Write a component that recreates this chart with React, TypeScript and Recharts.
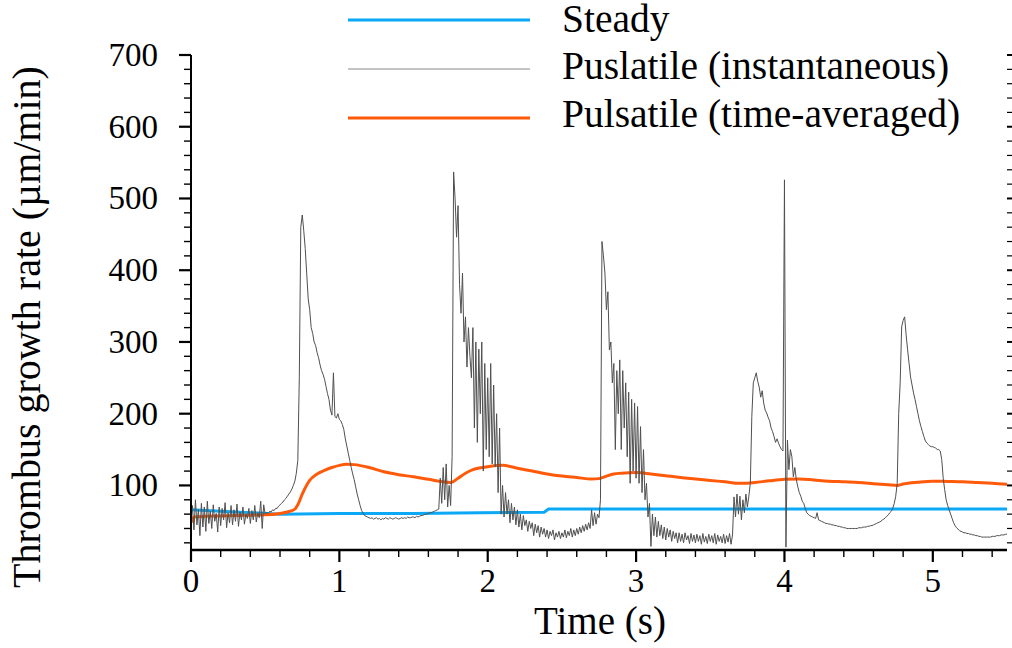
import React from 'react';
import { LineChart, Line, XAxis, YAxis, Legend } from 'recharts';

// ---------- data ----------
// Pulsatile (instantaneous): sampled every 0.01 s from t = 0 to 5.5 s
const INSTANT_STEP = 0.01;
const instantRate = [
  48, 72, 38, 80, 45, 66, 30, 75, 42, 70, // 0.0
  36, 78, 47, 64, 40, 73, 50, 61, 35, 70, // 0.1
  44, 68, 52, 76, 41, 62, 48, 72, 45, 66, // 0.2
  50, 74, 43, 63, 52, 70, 46, 60, 54, 68, // 0.3
  47, 65, 52, 72, 49, 62, 55, 78, 40, 73, // 0.4
  60, 62, 61, 64, 63, 66, 65, 68, 68, 71, // 0.5
  73, 75, 77, 80, 82, 85, 88, 91, 95, 100, // 0.6
  106, 117, 135, 250, 460, 477, 455, 430, 395, 360, // 0.7
  345, 320, 312, 300, 295, 285, 278, 268, 260, 255, // 0.8
  248, 238, 228, 220, 205, 198, 257, 196, 194, 200, // 0.9
  192, 190, 185, 178, 165, 155, 145, 135, 125, 116, // 1.0
  108, 98, 88, 80, 72, 65, 61, 58, 57, 56, // 1.1
  55, 54, 55, 53, 54, 55, 53, 54, 52, 54, // 1.2
  53, 55, 54, 53, 55, 54, 53, 54, 55, 54, // 1.3
  53, 54, 55, 54, 55, 54, 56, 55, 55, 56, // 1.4
  56, 55, 57, 56, 57, 58, 58, 59, 60, 60, // 1.5
  61, 62, 62, 63, 64, 65, 66, 67, 110, 75, // 1.6
  125, 80, 130, 70, 100, 72, 140, 537, 500, 446, // 1.7
  490, 380, 340, 396, 300, 335, 265, 320, 280, 250, // 1.8
  320, 180, 300, 160, 290, 200, 300, 120, 270, 150, // 1.9
  250, 140, 270, 130, 240, 126, 200, 90, 180, 60, // 2.0
  100, 56, 90, 60, 80, 48, 75, 52, 70, 45, // 2.1
  66, 42, 60, 38, 58, 44, 52, 36, 50, 40, // 2.2
  48, 30, 46, 34, 44, 28, 42, 32, 40, 28, // 2.3
  38, 26, 36, 30, 38, 24, 34, 28, 36, 26, // 2.4
  34, 28, 38, 27, 36, 30, 40, 28, 38, 30, // 2.5
  40, 32, 42, 34, 44, 36, 46, 38, 48, 40, // 2.6
  66, 44, 62, 46, 60, 55, 80, 440, 420, 396, // 2.7
  345, 370, 289, 300, 243, 270, 150, 260, 200, 275, // 2.8
  150, 260, 180, 243, 140, 230, 103, 220, 120, 215, // 2.9
  110, 210, 103, 182, 90, 150, 80, 103, 56, 75, // 3.0
  15, 60, 30, 56, 28, 50, 30, 45, 26, 42, // 3.1
  24, 40, 28, 38, 22, 36, 26, 34, 20, 34, // 3.2
  22, 32, 20, 34, 24, 30, 19, 33, 22, 31, // 3.3
  20, 32, 22, 30, 18, 33, 21, 29, 19, 32, // 3.4
  22, 30, 20, 33, 18, 31, 22, 29, 20, 32, // 3.5
  19, 30, 21, 33, 18, 31, 84, 56, 88, 60, // 3.6
  85, 52, 80, 62, 88, 70, 85, 103, 196, 243, // 3.7
  250, 257, 245, 237, 223, 232, 215, 205, 201, 195, // 3.8
  190, 180, 175, 168, 160, 165, 159, 154, 150, 148, // 3.9
  526, 14, 163, 122, 150, 140, 112, 125, 108, 98, // 4.0
  90, 85, 78, 75, 68, 62, 60, 58, 57, 56, // 4.1
  55, 54, 62, 52, 51, 50, 49, 48, 47, 47, // 4.2
  46, 46, 45, 45, 44, 44, 43, 43, 42, 42, // 4.3
  41, 41, 40, 40, 40, 40, 40, 40, 40, 40, // 4.4
  41, 41, 41, 42, 42, 42, 43, 43, 44, 44, // 4.5
  45, 46, 47, 48, 49, 50, 52, 53, 55, 57, // 4.6
  59, 62, 64, 68, 75, 85, 103, 200, 243, 321, // 4.7
  330, 335, 310, 289, 270, 251, 240, 229, 220, 210, // 4.8
  200, 190, 182, 175, 168, 162, 159, 157, 155, 154, // 4.9
  154, 153, 152, 150, 150, 148, 136, 110, 94, 80, // 5.0
  72, 66, 60, 54, 48, 44, 41, 39, 37, 36, // 5.1
  35, 34, 34, 33, 33, 32, 32, 31, 31, 30, // 5.2
  30, 29, 29, 28, 28, 28, 28, 28, 28, 28, // 5.3
  29, 29, 29, 30, 30, 30, 31, 31, 31, 32, // 5.4
  32, // 5.5
];

// Pulsatile (time-averaged)
const avgTime = [
  0, 0.02, 0.1, 0.2, 0.3, 0.4, 0.5, 0.6, 0.65, 0.7,
  0.72, 0.75, 0.8, 0.85, 0.9, 0.95, 1.0, 1.05, 1.1, 1.2,
  1.3, 1.4, 1.5, 1.6, 1.7, 1.75, 1.8, 1.85, 1.9, 2.0,
  2.1, 2.2, 2.3, 2.4, 2.5, 2.6, 2.7, 2.75, 2.8, 2.85,
  2.9, 3.0, 3.1, 3.2, 3.3, 3.4, 3.5, 3.6, 3.7, 3.75,
  3.8, 3.9, 4.0, 4.1, 4.2, 4.3, 4.4, 4.5, 4.6, 4.7,
  4.76, 4.8, 4.9, 5.0, 5.1, 5.2, 5.3, 5.4, 5.5,
];
const avgRate = [
  48, 56, 57, 57.5, 58, 58.5, 59, 61, 63, 67,
  73, 88, 107, 116, 121, 125, 128, 129.5, 129, 125,
  119, 115, 112, 108.5, 105, 104, 110, 117, 122, 126,
  128, 124, 120, 116, 113, 111, 109, 109.5, 113, 116,
  117, 118, 116, 113.5, 111, 109, 107, 105, 103, 103,
  104, 106.5, 108.5, 109, 107.5, 106, 105, 104, 102.5, 101,
  100, 102, 104.5, 106, 105.5, 105, 104, 103, 101.5,
];

// Steady
const steadyTime = [0, 0.3, 0.6, 1.0, 1.5, 1.95, 2.38, 2.41, 3.0, 4.0, 5.0, 5.5];
const steadyRate = [66, 63, 60, 61, 61, 62, 62.5, 67, 67, 67, 67, 67];

// Axis ticks
const xTicks = [
  0, 0.2, 0.4, 0.6, 0.8, 1, 1.2, 1.4, 1.6, 1.8, 2, 2.2, 2.4, 2.6,
  2.8, 3, 3.2, 3.4, 3.6, 3.8, 4, 4.2, 4.4, 4.6, 4.8, 5, 5.2, 5.4,
];
const yTicks = [
  20, 40, 60, 80, 100, 120, 140, 160, 180, 200, 220, 240, 260, 280, 300,
  320, 340, 360, 380, 400, 420, 440, 460, 480, 500, 520, 540, 560, 580, 600,
  620, 640, 660, 680, 700,
];
const xDomain = [0, 5.5];
const yDomain = [10, 700];

const seriesNames = ['Steady', 'Puslatile (instantaneous)', 'Pulsatile (time-averaged)'];
const xTitle = 'Time (s)';
const yTitle = 'Thrombus growth rate (µm/min)';

// ---------- styling ----------
const FONT = '"Liberation Serif", "Times New Roman", Times, serif';
const BLUE = '#0AA8F5';
const GRAY = '#505050';
const LEGEND_GRAY = '#8a8a8a';
const ORANGE = '#FF5A0A';

const instantData = instantRate.map((v, i) => ({ t: Math.round(i * INSTANT_STEP * 100) / 100, v }));
const avgData = avgTime.map((t, i) => ({ t, v: avgRate[i] }));
const steadyData = steadyTime.map((t, i) => ({ t, v: steadyRate[i] }));

const isMajorX = (v: number) => Math.abs(v - Math.round(v)) < 1e-6;
const isMajorY = (v: number) => v % 100 === 0;

const XTick = (props: any) => {
  const { x, y, payload } = props;
  const v = payload.value;
  const major = isMajorX(v);
  return (
    <g>
      <line x1={x} x2={x} y1={y} y2={y + (major ? 12 : 7)} stroke="#000" strokeWidth={major ? 2.2 : 1.4} />
      {major && (
        <text x={x} y={y + 42} textAnchor="middle" fontSize={33} fontFamily={FONT} fill="#000">
          {Math.round(v)}
        </text>
      )}
    </g>
  );
};

const YTick = (props: any) => {
  const { x, y, payload } = props;
  const v = payload.value;
  const major = isMajorY(v);
  return (
    <g>
      <line x1={x - (major ? 12 : 7)} x2={x} y1={y} y2={y} stroke="#000" strokeWidth={major ? 2.2 : 1.4} />
      {major && (
        <text x={x - 33} y={y + 11} textAnchor="end" fontSize={33} fontFamily={FONT} fill="#000">
          {v}
        </text>
      )}
    </g>
  );
};

const YTickRight = (props: any) => {
  const { x, y, payload } = props;
  const major = isMajorY(payload.value);
  return <line x1={x} x2={x + (major ? 7 : 5)} y1={y} y2={y} stroke="#000" strokeWidth={major ? 2 : 1.2} />;
};

const XTitle = () => (
  <text x={600} y={634} textAnchor="middle" fontSize={39} fontFamily={FONT} fill="#000">
    {xTitle}
  </text>
);

const YTitle = () => (
  <text x={40} y={327} transform="rotate(-90, 40, 327)" textAnchor="middle" fontSize={40} fontFamily={FONT} fill="#000">
    {yTitle}
  </text>
);

const legendColors = [BLUE, LEGEND_GRAY, ORANGE];
const legendWidths = [3, 1.2, 3];
const legendLineY = [20, 69, 118];
const legendTextY = [32, 79, 127];

const renderLegend = () => (
  <svg width={1012} height={140} style={{ display: 'block' }}>
    {seriesNames.map((name, i) => (
      <g key={name}>
        <line x1={348} x2={530} y1={legendLineY[i]} y2={legendLineY[i]} stroke={legendColors[i]} strokeWidth={legendWidths[i]} />
        <text x={562} y={legendTextY[i]} fontSize={39.5} fontFamily={FONT} fill="#000">
          {name}
        </text>
      </g>
    ))}
  </svg>
);

export default function App() {
  return (
    <div style={{ width: 1012, height: 648, background: '#fff', position: 'relative' }}>
      <style>{'body{margin:0;background:#fff;}'}</style>
      <LineChart width={1012} height={648} margin={{ top: 55, right: 0, bottom: 0, left: 91 }}>
        <XAxis
          dataKey="t"
          type="number"
          domain={xDomain}
          ticks={xTicks}
          interval={0}
          allowDataOverflow
          height={98}
          tickSize={0}
          tickMargin={0}
          tickLine={false}
          axisLine={{ stroke: '#000', strokeWidth: 2.5 }}
          tick={<XTick />}
          label={<XTitle />}
        />
        <YAxis
          yAxisId="left"
          type="number"
          domain={yDomain}
          ticks={yTicks}
          interval={0}
          allowDataOverflow
          width={100}
          tickSize={0}
          tickMargin={0}
          tickLine={false}
          axisLine={{ stroke: '#000', strokeWidth: 2 }}
          tick={<YTick />}
          label={<YTitle />}
        />
        <YAxis
          yAxisId="right"
          orientation="right"
          type="number"
          domain={yDomain}
          ticks={yTicks}
          interval={0}
          allowDataOverflow
          width={5}
          tickSize={0}
          tickMargin={0}
          tickLine={false}
          axisLine={false}
          tick={<YTickRight />}
        />
        <Legend
          layout="horizontal"
          verticalAlign="middle"
          align="center"
          content={renderLegend}
          wrapperStyle={{ left: 0, top: 0, width: 1012, height: 140 }}
        />
        <Line
          yAxisId="left"
          data={steadyData}
          dataKey="v"
          type="linear"
          stroke={BLUE}
          strokeWidth={3}
          dot={false}
          isAnimationActive={false}
        />
        <Line
          yAxisId="left"
          data={avgData}
          dataKey="v"
          type="monotone"
          stroke={ORANGE}
          strokeWidth={3}
          dot={false}
          isAnimationActive={false}
        />
        <Line
          yAxisId="left"
          data={instantData}
          dataKey="v"
          type="linear"
          stroke={GRAY}
          strokeWidth={1}
          dot={false}
          isAnimationActive={false}
        />
      </LineChart>
    </div>
  );
}
